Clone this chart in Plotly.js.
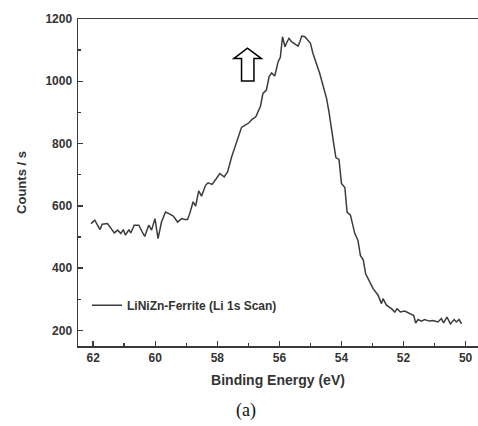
<!DOCTYPE html>
<html>
<head>
<meta charset="utf-8">
<script src="https://cdn.plot.ly/plotly-3.0.1.min.js"></script>
<style>html,body{margin:0;padding:0;background:#fff;overflow:hidden;}</style>
</head>
<body>
<div id="chart" style="width:478px;height:426px;"></div>
<script>
// Binding energy (eV)
const bindingEnergy = [
  62.07, 61.95, 61.78, 61.71, 61.54, 61.46, 61.32, 61.21, 61.11, 61.03,
  60.96, 60.85, 60.79, 60.68, 60.53, 60.42, 60.34, 60.21, 60.12, 60.01,
  59.91, 59.80, 59.67, 59.56, 59.42, 59.28, 59.15, 59.05, 58.96, 58.89,
  58.78, 58.70, 58.60, 58.51, 58.38, 58.30, 58.17, 58.03, 57.92, 57.78,
  57.67, 57.54, 57.46, 57.33, 57.22, 57.09, 56.99, 56.88, 56.76, 56.61,
  56.53, 56.42, 56.33, 56.25, 56.15, 56.04, 55.97, 55.90, 55.82, 55.75,
  55.69, 55.61, 55.50, 55.40, 55.34, 55.28, 55.18, 55.08, 55.00, 54.92,
  54.81, 54.70, 54.59, 54.48, 54.40, 54.32, 54.25, 54.18, 54.08, 54.00,
  53.89, 53.82, 53.71, 53.57, 53.47, 53.39, 53.30, 53.22, 53.11, 52.98,
  52.82, 52.71, 52.66, 52.55, 52.39, 52.28, 52.21, 52.10, 51.96, 51.80,
  51.67, 51.61, 51.53, 51.42, 51.32, 51.18, 51.05, 50.89, 50.78, 50.71,
  50.60, 50.49, 50.37, 50.30, 50.21, 50.13
];
// Counts per second
const counts = [
  543, 554, 524, 541, 543, 532, 513, 522, 511, 524,
  506, 524, 513, 538, 538, 516, 502, 538, 522, 559,
  495, 548, 580, 575, 567, 548, 559, 556, 556, 575,
  613, 599, 648, 631, 666, 674, 669, 688, 704, 693,
  709, 757, 781, 816, 852, 860, 866, 878, 886, 920,
  961, 972, 1015, 1027, 1017, 1063, 1077, 1143, 1111, 1127,
  1138, 1127, 1120, 1113, 1127, 1145, 1143, 1132, 1122, 1090,
  1058, 1025, 985, 945, 900, 854, 800, 755, 749, 672,
  659, 580, 570, 511, 490, 441, 427, 382, 360, 334,
  313, 286, 302, 281, 270, 259, 270, 259, 262, 254,
  248, 224, 235, 230, 235, 230, 232, 227, 238, 224,
  243, 221, 235, 227, 235, 221
];
// Tick labels
const xTickVals = [62, 60, 58, 56, 54, 52, 50];
const yTickVals = [200, 400, 600, 800, 1000, 1200];
const seriesName = 'LiNiZn-Ferrite (Li 1s Scan)';
const xTitle = 'Binding Energy (eV)';
const yTitle = 'Counts / s';
const caption = '(a)';

const sans = 'Arial, Liberation Sans, sans-serif';
const axisColor = '#3a3a3a';
const tickFont = {family: sans, size: 12, color: '#333', weight: 'bold'};
const bold = s => '<b>' + s + '</b>';

const trace = {
  x: bindingEnergy, y: counts, type: 'scatter', mode: 'lines', name: bold(seriesName),
  line: {color: '#3c3c3c', width: 1.5}, showlegend: true
};

const layout = {
  width: 478, height: 426,
  margin: {l: 78, r: 0, t: 19, b: 80},
  paper_bgcolor: '#fff', plot_bgcolor: '#fff',
  showlegend: true,
  legend: {
    x: 0.0225, y: 0.125, xanchor: 'left', yanchor: 'middle',
    bgcolor: 'rgba(0,0,0,0)', borderwidth: 0,
    font: {family: sans, size: 12, color: '#333', weight: 'bold'}
  },
  xaxis: {
    range: [62.49, 49.6], tickmode: 'array', tickvals: xTickVals, ticktext: xTickVals.map(v => bold(v)),
    ticks: 'inside', ticklen: 5, tickwidth: 1.5, tickcolor: axisColor,
    minor: {tickmode: 'linear', tick0: 50, dtick: 1, ticks: 'inside', ticklen: 3, tickwidth: 1.5, tickcolor: axisColor},
    showline: true, linecolor: axisColor, linewidth: 1.5, mirror: true,
    showgrid: false, zeroline: false,
    tickfont: tickFont,
    title: {text: bold(xTitle), standoff: 11, font: {family: sans, size: 14, color: '#333', weight: 'bold'}}
  },
  yaxis: {
    range: [150, 1200], tickmode: 'array', tickvals: yTickVals, ticktext: yTickVals.map(v => bold(v)),
    ticks: 'inside', ticklen: 5, tickwidth: 1.5, tickcolor: axisColor,
    ticklabelstandoff: 2,
    minor: {tickmode: 'linear', tick0: 200, dtick: 100, ticks: 'inside', ticklen: 3, tickwidth: 1.5, tickcolor: axisColor},
    showline: true, linecolor: axisColor, linewidth: 1.5,
    showgrid: false, zeroline: false,
    tickfont: tickFont,
    title: {text: bold(yTitle), standoff: 16, font: {family: sans, size: 13, color: '#333', weight: 'bold'}}
  },
  shapes: [{
    type: 'path', xref: 'x', yref: 'y',
    path: 'M57.47,1073 L57.03,1106 L56.58,1073 L56.82,1073 L56.82,1001 L57.22,1001 L57.22,1073 Z',
    line: {color: '#000', width: 1.5}, fillcolor: 'rgba(0,0,0,0)'
  }],
  annotations: [{
    text: caption, xref: 'paper', yref: 'paper', x: (246 - 78) / 400, y: -(410 - 345.7) / 326.7,
    xanchor: 'center', yanchor: 'middle', showarrow: false,
    font: {family: 'Liberation Serif, Times New Roman, serif', size: 18, color: '#111'}
  }]
};

Plotly.newPlot('chart', [trace], layout, {displayModeBar: false, staticPlot: true});
</script>
</body>
</html>
